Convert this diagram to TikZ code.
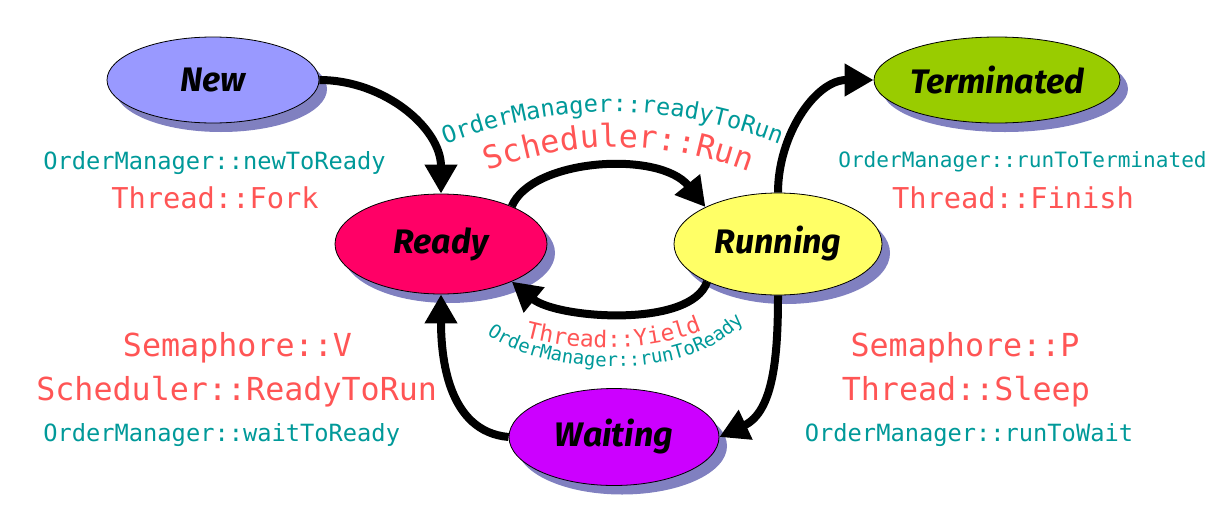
\documentclass[tikz,border=0pt]{standalone}
\usepackage{fontspec}
\usetikzlibrary{arrows.meta,shapes.geometric,shadows,decorations.text}
\newfontfamily\statefont{Fira Sans}
\newfontfamily\monofont{DejaVu Sans Mono}
\definecolor{tealc}{HTML}{009999}
\definecolor{redc}{HTML}{FF5555}
\definecolor{shadowc}{HTML}{8080C0}
\definecolor{newc}{HTML}{9999FF}
\definecolor{readyc}{HTML}{FF0066}
\definecolor{runc}{HTML}{FFFF66}
\definecolor{termc}{HTML}{99CC00}
\definecolor{waitc}{HTML}{CC00FF}
\begin{document}
\begin{tikzpicture}[x=1pt,y=-1pt,
  state/.style={ellipse, draw=black, line width=0.8pt, inner sep=0pt,
    font=\statefont\bfseries\itshape\fontsize{34}{34}\selectfont,
    general shadow={fill=shadowc, shadow xshift=8pt, shadow yshift=-9pt}},
  arr/.style={line width=8pt, -{Triangle[length=29pt,width=31pt]}},
  tl/.style={text=tealc, font=\monofont\fontsize{23.7}{24}\selectfont, anchor=base},
  tls/.style={text=tealc, font=\monofont\fontsize{21.1}{22}\selectfont, anchor=base},
  rl/.style={text=redc, font=\monofont\fontsize{31.7}{32}\selectfont, anchor=base},
  rls/.style={text=redc, font=\monofont\fontsize{28.7}{29}\selectfont, anchor=base}]
\useasboundingbox (0,0) rectangle (1231,517);

\node[state, fill=newc, minimum width=212pt, minimum height=86pt] (new) at (213,80) {New};
\node[state, fill=readyc, minimum width=212pt, minimum height=100pt] (ready) at (441,244) {Ready};
\node[state, fill=runc, minimum width=208pt, minimum height=102pt] (running) at (778,244) {Running};
\node[state, fill=termc, minimum width=210pt, minimum height=86pt] (term) at (997,80) {Terminated};
\node[state, fill=waitc, minimum width=210pt, minimum height=97pt] (wait) at (614,437) {Waiting};

\draw[arr] (new.east) to[out=0,in=90] (ready.north);
\draw[arr] (ready.28) .. controls +(20,-48) and +(-46,-57) .. (running.153);
\draw[arr] (running.208) .. controls +(-16,47) and +(45,37) .. (ready.-28);
\draw[arr] (running.north) to[out=90,in=180] (term.west);
\draw[arr] (running.south) to[out=-90,in=25] (wait.east);
\draw[arr] (wait.west) to[out=175,in=-90] (ready.south);

\node[tl] (l1) at (214.5,169) {OrderManager::newToReady};
\node[rls] (l2) at (215,208) {Thread::Fork};
\node[tls] (l3) at (1022.5,167) {OrderManager::runToTerminated};
\node[rls] (l4) at (1013,208) {Thread::Finish};
\node[rl] (l5) at (237.5,356) {Semaphore::V};
\node[rl] (l6) at (236.7,400) {Scheduler::ReadyToRun};
\node[tl] (l7) at (221.7,441.7) {OrderManager::waitToReady};
\node[rl] (l8) at (965,356) {Semaphore::P};
\node[rl] (l9) at (965.8,400) {Thread::Sleep};
\node[tl] (l10) at (969,441.7) {OrderManager::runToWait};

\path[decorate, decoration={text along path, text align=center,
  text={|\monofont\fontsize{23.7}{24}\selectfont\color{tealc}|OrderManager::readyToRun}}]
  (443,145) .. controls (556,101) and (669,101) .. (782,145);
\path[decorate, decoration={text along path, text align=center,
  text={|\monofont\fontsize{31.7}{32}\selectfont\color{redc}|Scheduler::Run}}]
  (487,171) .. controls (575,139) and (662,139) .. (750,172);
\path[decorate, decoration={text along path, text align=center,
  text={|\monofont\fontsize{23}{24}\selectfont\color{redc}|Thread::Yield}}]
  (525,337) .. controls (580,352) and (650,352) .. (702,330);
\path[decorate, decoration={text along path, text align=center,
  text={|\monofont\fontsize{19}{20}\selectfont\color{tealc}|OrderManager::runToReady}}]
  (485,333) .. controls (540,375) and (690,385) .. (745,320);
\end{tikzpicture}
\end{document}
